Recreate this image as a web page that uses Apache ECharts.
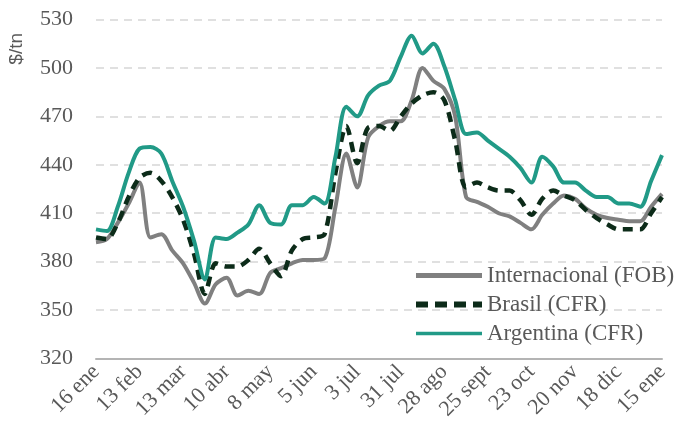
<!DOCTYPE html>
<html>
<head>
<meta charset="utf-8">
<script src="https://cdn.jsdelivr.net/npm/echarts@6/dist/echarts.min.js"></script>
<style>
  html, body { margin: 0; padding: 0; background: #fff; }
  #chart { width: 682px; height: 434px; }
</style>
</head>
<body>
<div id="chart"></div>
<script>
// semanas (una por punto)
var weeks = [
  "16 ene", "23 ene", "30 ene", "6 feb", "13 feb", "20 feb", "27 feb", "6 mar",
  "13 mar", "20 mar", "27 mar", "3 abr", "10 abr", "17 abr", "24 abr", "1 may",
  "8 may", "15 may", "22 may", "29 may", "5 jun", "12 jun", "19 jun", "26 jun",
  "3 jul", "10 jul", "17 jul", "24 jul", "31 jul", "7 ago", "14 ago", "21 ago",
  "28 ago", "4 sept", "11 sept", "18 sept", "25 sept", "2 oct", "9 oct", "16 oct",
  "23 oct", "30 oct", "6 nov", "13 nov", "20 nov", "27 nov", "4 dic", "11 dic",
  "18 dic", "25 dic", "1 ene", "8 ene", "15 ene"
];

var internacional = [
  392, 394, 404, 416, 429, 395, 397, 387, 379, 367, 354, 366, 370, 359, 362, 360,
  373, 376, 379, 381, 381, 382, 414, 447, 426, 457, 464, 467, 467, 480, 500, 492,
  487, 470, 420, 417, 414, 410, 408, 404, 400, 409, 416, 421, 419, 413, 409, 407,
  406, 405, 405, 414, 422
];

var brasil = [
  395, 394, 404, 420, 432, 435, 430, 420, 406, 385, 360, 379, 377, 377, 381, 388,
  379, 371, 387, 394, 395, 397, 435, 464, 441, 463, 464, 461, 470, 478, 483, 485,
  480, 455, 426, 429, 426, 424, 424, 418, 409, 419, 424, 421, 418, 412, 407, 403,
  400, 400, 400, 410, 420
];

var argentina = [
  400, 399, 414, 435, 450, 451, 447, 430, 414, 393, 369, 395, 394, 398, 403, 415,
  404, 403, 415, 415, 420, 416, 445, 476, 470, 483, 489, 492, 507, 520, 509, 515,
  501, 480, 459, 460, 455, 450, 445, 438, 429, 445, 439, 429, 429, 424, 420, 420,
  416, 416, 414, 430, 446
];

var chart = echarts.init(document.getElementById("chart"));
var serif = "Liberation Serif";

var option = {
  animation: false,
  backgroundColor: "#ffffff",
  grid: { left: 96, right: 20, top: 19.5, bottom: 75.5 },
  graphic: [
    {
      type: "text",
      left: 7,
      top: 33,
      rotation: Math.PI / 2,
      style: { text: "$/tn", font: "19px 'Liberation Sans'", fill: "#595959" }
    }
  ],
  legend: {
    orient: "vertical",
    left: 408,
    top: 259,
    itemWidth: 66,
    itemHeight: 14,
    itemGap: 6,
    itemStyle: { opacity: 0 },
    textStyle: { fontFamily: serif, fontSize: 23, color: "#595959" },
    data: [
      { name: "Internacional (FOB)", lineStyle: { width: 5 } },
      { name: "Brasil (CFR)", lineStyle: { width: 6, type: [12, 7] } },
      { name: "Argentina (CFR)", lineStyle: { width: 3.5 } }
    ]
  },
  xAxis: {
    type: "category",
    boundaryGap: false,
    data: weeks,
    axisTick: { show: false },
    axisLine: { lineStyle: { color: "#b4b4b4", width: 2 } },
    axisLabel: {
      interval: 3,
      rotate: 45,
      margin: 10,
      fontFamily: serif,
      fontSize: 22,
      color: "#595959"
    }
  },
  yAxis: {
    type: "value",
    min: 320,
    max: 530,
    interval: 30,
    axisLine: { show: false },
    axisTick: { show: false },
    axisLabel: { margin: 23, fontFamily: serif, fontSize: 22, color: "#595959" },
    splitLine: { lineStyle: { color: "#d6d6d6", width: 1.5, type: [8, 6] } }
  },
  series: [
    {
      name: "Internacional (FOB)",
      type: "line",
      data: internacional,
      smooth: 0.3,
      showSymbol: false,
      symbol: "none",
      itemStyle: { color: "#808080" },
      lineStyle: { color: "#808080", width: 4 }
    },
    {
      name: "Brasil (CFR)",
      type: "line",
      data: brasil,
      smooth: 0.3,
      showSymbol: false,
      symbol: "none",
      itemStyle: { color: "#0c2b19" },
      lineStyle: { color: "#0c2b19", width: 4.5, type: [10, 7] }
    },
    {
      name: "Argentina (CFR)",
      type: "line",
      data: argentina,
      smooth: 0.3,
      showSymbol: false,
      symbol: "none",
      itemStyle: { color: "#219a87" },
      lineStyle: { color: "#219a87", width: 4 }
    }
  ]
};

chart.setOption(option);
</script>
</body>
</html>
